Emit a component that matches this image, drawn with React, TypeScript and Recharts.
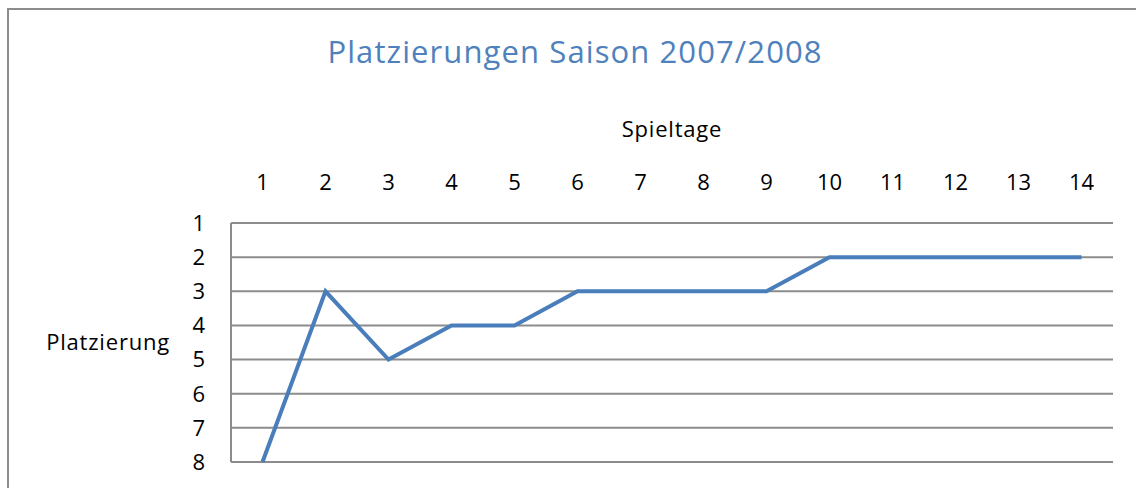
import { LineChart, Line, XAxis, YAxis, CartesianGrid, Label } from 'recharts';

const spieltage = ['1', '2', '3', '4', '5', '6', '7', '8', '9', '10', '11', '12', '13', '14'];
const platzierung = [8, 3, 5, 4, 4, 3, 3, 3, 3, 2, 2, 2, 2, 2];
const yTicks = [1, 2, 3, 4, 5, 6, 7, 8];

const FONT = '"Open Sans", sans-serif';

export default function App() {
  const data = spieltage.map((tag, i) => ({ tag, platz: platzierung[i] }));

  return (
    <div
      style={{
        position: 'fixed',
        left: 0,
        top: 0,
        width: 1136,
        height: 488,
        overflow: 'hidden',
        background: '#fff',
        fontFamily: FONT,
      }}
    >
      {/* Rahmen, rechts und unten abgeschnitten */}
      <div
        style={{
          position: 'absolute',
          left: 7,
          top: 8,
          width: 1200,
          height: 600,
          borderLeft: '2px solid #8c8c8c',
          borderTop: '2px solid #8c8c8c',
        }}
      />
      <div
        style={{
          position: 'absolute',
          left: 0,
          top: 29,
          width: 1150,
          textAlign: 'center',
          fontSize: 31,
          letterSpacing: 1.1,
          color: '#4f81bd',
          lineHeight: '44px',
        }}
      >
        Platzierungen Saison 2007/2008
      </div>
      <div style={{ position: 'absolute', left: 0, top: 0 }}>
        <LineChart
          width={1136}
          height={488}
          data={data}
          margin={{ top: 183, right: 23, bottom: 26, left: 171 }}
        >
          <CartesianGrid vertical={false} stroke="#8c8c8c" strokeWidth={2} />
          <XAxis
            dataKey="tag"
            orientation="top"
            height={40}
            interval={0}
            axisLine={false}
            tickLine={false}
            tickSize={6}
            tickMargin={27}
            padding={{ left: 31.5, right: 31.5 }}
            tick={{ fill: '#000', fontSize: 22, fontFamily: FONT }}
          >
            <Label
              value="Spieltage"
              position="top"
              offset={46}
              style={{ fill: '#000', fontSize: 22, fontFamily: FONT, letterSpacing: 0.8 }}
            />
          </XAxis>
          <YAxis
            type="number"
            domain={[1, 8]}
            reversed
            ticks={yTicks}
            interval={0}
            width={60}
            axisLine={{ stroke: '#8c8c8c', strokeWidth: 2 }}
            tickLine={false}
            tickSize={6}
            tickMargin={20}
            tick={{ fill: '#000', fontSize: 22, fontFamily: FONT }}
          >
            <Label
              value="Platzierung"
              position="left"
              offset={1}
              style={{ fill: '#000', fontSize: 22, fontFamily: FONT, textAnchor: 'end', letterSpacing: 0.8 }}
            />
          </YAxis>
          <Line
            type="linear"
            dataKey="platz"
            stroke="#4a7ebb"
            strokeWidth={4}
            dot={false}
            activeDot={false}
            isAnimationActive={false}
          />
        </LineChart>
      </div>
    </div>
  );
}
